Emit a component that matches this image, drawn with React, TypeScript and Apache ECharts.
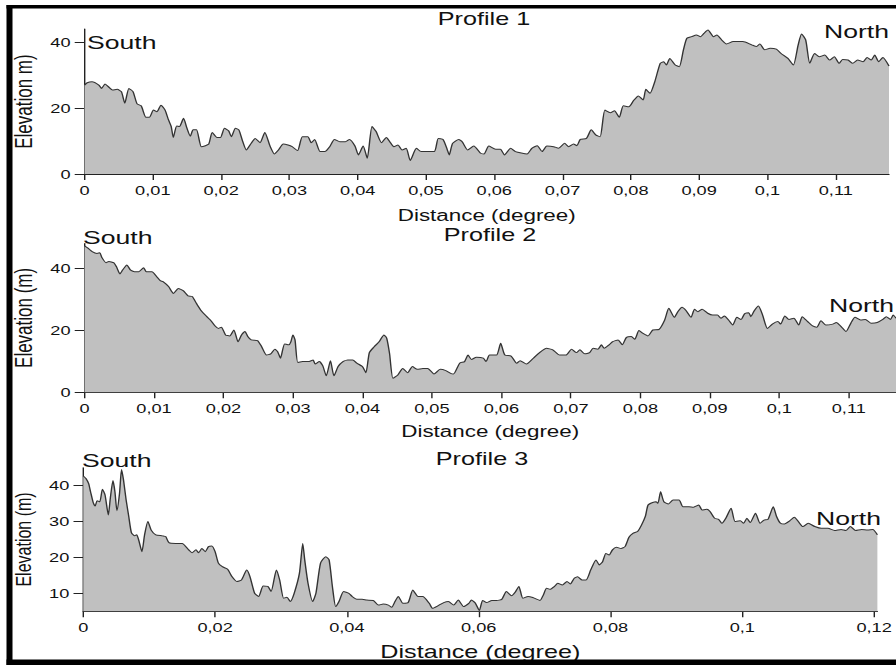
import React, { useEffect, useRef } from "react";
import * as echarts from "echarts";

// ---------- data (distance in degrees, elevation in m) ----------
const profile1: [number, number][] = [
  [0.0, 27.0], [0.0004, 27.7], [0.0011, 28.0], [0.0021, 27.0], [0.0025, 26.0], [0.003, 27.3], [0.0036, 26.3],
  [0.0041, 25.5], [0.0048, 25.7], [0.0054, 25.0], [0.0059, 21.5], [0.0065, 26.0], [0.0071, 25.0], [0.0077, 21.3],
  [0.0083, 20.7], [0.009, 17.2], [0.0095, 17.2], [0.0101, 19.4], [0.0106, 18.9], [0.0112, 20.9], [0.0118, 19.4],
  [0.0123, 16.4], [0.0127, 14.4], [0.013, 11.1], [0.0135, 14.6], [0.0139, 14.4], [0.0145, 16.9], [0.015, 13.9],
  [0.0155, 11.5], [0.0159, 13.4], [0.0164, 13.4], [0.0171, 8.3], [0.0177, 8.6], [0.0182, 9.1], [0.0187, 12.6],
  [0.0194, 11.1], [0.0199, 11.1], [0.0205, 13.9], [0.0211, 13.1], [0.0215, 11.3], [0.0221, 13.9], [0.0226, 13.4],
  [0.0231, 10.3], [0.0237, 7.3], [0.0244, 9.3], [0.025, 10.8], [0.0257, 9.5], [0.0264, 12.6], [0.0272, 8.3],
  [0.0278, 6.1], [0.0284, 7.3], [0.0291, 9.1], [0.0298, 8.8], [0.0304, 8.3], [0.0312, 7.1], [0.0319, 11.3],
  [0.0327, 11.3], [0.0332, 9.5], [0.0337, 10.5], [0.0345, 6.8], [0.0352, 6.8], [0.0359, 8.3], [0.0366, 10.5],
  [0.0374, 9.8], [0.0382, 9.8], [0.0388, 10.5], [0.0396, 8.5], [0.0401, 5.8], [0.0408, 8.5], [0.0414, 4.8],
  [0.0421, 14.4], [0.0427, 12.9], [0.0435, 9.5], [0.0442, 11.1], [0.0447, 9.8], [0.0453, 8.3], [0.0459, 8.8],
  [0.0465, 7.3], [0.0471, 7.8], [0.0477, 4.1], [0.0486, 7.8], [0.0493, 6.8], [0.0512, 6.8], [0.0518, 10.8],
  [0.0525, 10.5], [0.0531, 7.5], [0.0534, 5.8], [0.0539, 9.3], [0.0548, 10.5], [0.0553, 9.8], [0.0561, 7.3],
  [0.057, 8.5], [0.058, 6.3], [0.0585, 6.1], [0.0592, 8.5], [0.0602, 7.5], [0.0609, 7.5], [0.0615, 5.8],
  [0.0624, 7.8], [0.0631, 6.8], [0.0648, 6.1], [0.0655, 7.8], [0.0663, 8.6], [0.067, 6.8], [0.0677, 8.5],
  [0.0687, 8.3], [0.0694, 7.8], [0.0703, 9.3], [0.0709, 8.3], [0.0716, 9.1], [0.0721, 8.6], [0.0726, 10.5],
  [0.0735, 10.8], [0.0742, 13.4], [0.0749, 11.8], [0.0755, 11.3], [0.0762, 19.4], [0.077, 18.6], [0.0776, 19.2],
  [0.0783, 17.2], [0.0789, 20.7], [0.0797, 20.4], [0.0804, 22.3], [0.0811, 23.7], [0.0818, 22.5], [0.0822, 25.7],
  [0.0828, 24.5], [0.0835, 28.0], [0.0843, 33.6], [0.0848, 34.1], [0.0852, 33.1], [0.0857, 35.1], [0.0865, 33.1],
  [0.0871, 32.6], [0.0877, 37.7], [0.0882, 41.2], [0.0889, 41.7], [0.0896, 42.2], [0.0902, 41.7], [0.0907, 42.7],
  [0.0913, 43.7], [0.0921, 41.7], [0.0926, 42.2], [0.0933, 40.7], [0.094, 39.5], [0.095, 40.2], [0.0964, 40.2],
  [0.0977, 39.2], [0.0984, 38.7], [0.0989, 39.5], [0.0996, 37.7], [0.1004, 38.2], [0.1013, 37.9], [0.102, 36.6],
  [0.103, 35.1], [0.1038, 33.1], [0.1045, 39.2], [0.105, 42.5], [0.1056, 40.7], [0.1062, 33.6], [0.1069, 36.6],
  [0.1076, 35.6], [0.1084, 36.1], [0.1091, 34.6], [0.1098, 35.6], [0.1105, 33.6], [0.111, 34.8], [0.1118, 34.6],
  [0.1125, 33.6], [0.1132, 34.6], [0.114, 34.1], [0.1146, 35.4], [0.1152, 34.6], [0.1157, 36.1], [0.1163, 34.1],
  [0.1169, 35.4], [0.1178, 32.8],
];

const profile2: [number, number][] = [
  [0.0, 47.2], [0.0005, 46.5], [0.0011, 45.4], [0.0018, 44.8], [0.0022, 45.0], [0.0025, 43.5], [0.0031, 41.8],
  [0.0035, 42.2], [0.0042, 41.8], [0.0046, 40.5], [0.0051, 38.2], [0.0055, 39.5], [0.0061, 41.1], [0.0066, 39.5],
  [0.0072, 38.9], [0.0078, 38.9], [0.0085, 40.2], [0.0089, 38.9], [0.0097, 38.9], [0.0104, 37.3], [0.0109, 36.0],
  [0.0113, 35.7], [0.0121, 34.1], [0.0128, 31.9], [0.0135, 33.5], [0.0142, 32.8], [0.0149, 31.1], [0.0155, 30.9],
  [0.0161, 28.7], [0.0168, 26.3], [0.0176, 24.4], [0.0182, 23.1], [0.0188, 21.4], [0.0193, 20.6], [0.0197, 21.0],
  [0.0203, 18.5], [0.0209, 18.2], [0.0215, 20.1], [0.0221, 16.3], [0.0226, 18.5], [0.0231, 19.6], [0.0235, 18.0],
  [0.024, 16.9], [0.0249, 16.7], [0.0255, 14.7], [0.0262, 12.0], [0.0268, 12.4], [0.0274, 13.9], [0.0278, 13.1],
  [0.0282, 11.0], [0.0288, 15.6], [0.0294, 15.3], [0.0297, 16.3], [0.03, 18.5], [0.0303, 16.9], [0.0307, 9.6],
  [0.0314, 9.9], [0.0322, 9.9], [0.0329, 10.4], [0.0332, 9.1], [0.0338, 9.9], [0.0343, 8.5], [0.0348, 5.3],
  [0.0354, 10.2], [0.0359, 5.3], [0.0365, 8.3], [0.0372, 9.9], [0.0379, 10.4], [0.0386, 10.4], [0.0392, 9.4],
  [0.04, 8.3], [0.0405, 6.3], [0.041, 12.8], [0.0417, 14.7], [0.0424, 16.3], [0.0431, 18.5], [0.0435, 17.4],
  [0.0439, 12.6], [0.0444, 4.5], [0.0451, 5.6], [0.0458, 7.7], [0.0465, 6.3], [0.0472, 8.3], [0.0479, 7.4],
  [0.0487, 7.7], [0.0494, 7.7], [0.0503, 5.9], [0.0512, 7.4], [0.052, 7.0], [0.0527, 6.1], [0.0531, 5.9],
  [0.054, 9.4], [0.0547, 9.9], [0.0552, 12.0], [0.0557, 10.6], [0.0564, 11.3], [0.0574, 11.0], [0.0578, 9.9],
  [0.0583, 12.0], [0.0593, 12.0], [0.0599, 15.8], [0.0605, 12.0], [0.0614, 11.7], [0.0622, 9.4], [0.0627, 10.2],
  [0.0636, 9.1], [0.0646, 11.0], [0.0655, 12.8], [0.0665, 14.2], [0.0674, 13.7], [0.0684, 12.0], [0.0693, 12.0],
  [0.0701, 13.9], [0.0708, 12.8], [0.0713, 13.7], [0.072, 12.4], [0.0727, 12.8], [0.0732, 14.2], [0.0739, 13.9],
  [0.0744, 15.3], [0.0748, 14.2], [0.0755, 15.3], [0.076, 16.3], [0.0768, 16.9], [0.0774, 15.3], [0.078, 17.7],
  [0.0787, 18.0], [0.0792, 17.1], [0.0798, 19.9], [0.0804, 19.0], [0.0811, 18.2], [0.0818, 20.1], [0.0827, 20.3],
  [0.0835, 23.3], [0.0841, 27.1], [0.0849, 24.2], [0.0854, 26.0], [0.086, 27.4], [0.0866, 26.3], [0.0873, 24.2],
  [0.0878, 26.8], [0.0883, 26.0], [0.0889, 26.8], [0.0897, 25.5], [0.0904, 24.9], [0.0911, 24.9], [0.0916, 23.9],
  [0.0921, 24.6], [0.0927, 23.3], [0.0933, 21.7], [0.0939, 24.2], [0.0945, 23.5], [0.095, 25.3], [0.0956, 25.7],
  [0.0959, 24.4], [0.0964, 26.3], [0.097, 27.8], [0.0976, 24.9], [0.0983, 20.6], [0.099, 22.0], [0.0998, 22.8],
  [0.1002, 22.0], [0.1008, 24.6], [0.1014, 23.5], [0.1021, 23.9], [0.1028, 21.7], [0.1033, 24.4], [0.1041, 22.8],
  [0.1048, 21.4], [0.1054, 21.0], [0.106, 23.1], [0.1067, 21.7], [0.1077, 22.0], [0.1082, 22.5], [0.1089, 21.2],
  [0.1096, 19.6], [0.1103, 22.3], [0.1109, 24.2], [0.1117, 23.3], [0.1124, 23.5], [0.1132, 22.3], [0.1141, 22.5],
  [0.1149, 23.5], [0.1154, 24.4], [0.116, 23.5], [0.1164, 24.9], [0.1168, 23.9],
];

const profile3: [number, number][] = [
  [0.0, 42.7], [0.0004, 42.0], [0.0008, 40.6], [0.0011, 38.3], [0.0015, 35.3], [0.0018, 34.3], [0.0021, 35.8],
  [0.0025, 35.5], [0.0029, 39.0], [0.0033, 37.4], [0.0038, 31.8], [0.0041, 36.5], [0.0045, 41.4], [0.0048, 38.3],
  [0.0051, 33.0], [0.0055, 37.9], [0.0058, 44.5], [0.0061, 41.6], [0.0065, 36.0], [0.0069, 31.4], [0.0073, 26.9],
  [0.0078, 26.0], [0.0081, 26.3], [0.0084, 24.9], [0.0089, 21.6], [0.0093, 26.3], [0.0098, 30.0], [0.0103, 27.6],
  [0.011, 26.3], [0.012, 26.0], [0.0125, 25.8], [0.013, 24.1], [0.014, 23.9], [0.015, 23.9], [0.016, 22.1],
  [0.0165, 21.3], [0.0171, 22.1], [0.0175, 21.3], [0.018, 22.5], [0.0185, 21.6], [0.019, 23.0], [0.0195, 23.2],
  [0.02, 21.6], [0.0205, 18.4], [0.0211, 17.4], [0.0219, 16.7], [0.0225, 14.8], [0.0233, 13.3], [0.024, 13.7],
  [0.0248, 16.5], [0.0253, 14.6], [0.026, 10.0], [0.0266, 9.1], [0.0273, 12.0], [0.028, 11.9], [0.0285, 10.5],
  [0.0293, 16.5], [0.0298, 13.7], [0.0304, 8.6], [0.0309, 8.9], [0.0314, 7.7], [0.032, 10.0], [0.0328, 15.6],
  [0.0333, 23.9], [0.0336, 19.3], [0.0341, 12.8], [0.0348, 7.7], [0.0353, 10.0], [0.036, 18.4], [0.0368, 20.2],
  [0.0373, 19.3], [0.0378, 11.9], [0.0383, 6.3], [0.0388, 7.7], [0.0395, 10.5], [0.0403, 10.0], [0.0408, 9.1],
  [0.0415, 8.3], [0.0423, 8.3], [0.043, 8.1], [0.044, 8.0], [0.0448, 6.7], [0.0455, 7.0], [0.0463, 6.7],
  [0.0468, 6.1], [0.0473, 7.7], [0.0478, 9.1], [0.0485, 7.2], [0.0493, 7.4], [0.05, 10.9], [0.0508, 9.1],
  [0.0515, 9.1], [0.0525, 7.2], [0.053, 5.8], [0.0538, 6.5], [0.0547, 7.4], [0.0554, 7.7], [0.0562, 6.7],
  [0.0569, 8.1], [0.0577, 6.3], [0.0585, 7.2], [0.0589, 8.1], [0.0595, 7.2], [0.0601, 5.2], [0.0606, 8.0],
  [0.0612, 7.4], [0.062, 8.0], [0.0627, 8.0], [0.0635, 8.3], [0.0642, 10.5], [0.065, 9.3], [0.0655, 10.2],
  [0.0661, 11.9], [0.0667, 8.6], [0.0675, 9.1], [0.0682, 8.8], [0.0693, 8.0], [0.0698, 9.5], [0.0703, 11.4],
  [0.0708, 11.1], [0.0715, 11.9], [0.072, 12.8], [0.0727, 12.3], [0.0734, 13.3], [0.0739, 12.6], [0.0745, 14.2],
  [0.075, 14.6], [0.0757, 13.7], [0.0763, 13.7], [0.077, 16.5], [0.0778, 19.3], [0.0783, 17.9], [0.0788, 18.8],
  [0.0793, 21.1], [0.0798, 20.7], [0.0803, 22.1], [0.0809, 22.8], [0.0816, 22.5], [0.0822, 23.0], [0.0828, 25.6],
  [0.0834, 26.7], [0.0841, 27.2], [0.0847, 29.0], [0.0853, 31.5], [0.0857, 34.6], [0.0864, 35.3], [0.0869, 35.5],
  [0.0872, 35.1], [0.0876, 38.3], [0.0881, 35.5], [0.0888, 34.9], [0.0895, 36.0], [0.0904, 36.0], [0.091, 34.1],
  [0.0919, 34.1], [0.0926, 34.0], [0.0934, 34.6], [0.0939, 33.2], [0.0946, 33.4], [0.0951, 32.8], [0.0958, 30.9],
  [0.0964, 30.6], [0.0969, 29.5], [0.0975, 30.9], [0.0983, 33.7], [0.0989, 30.0], [0.0997, 30.2], [0.1002, 29.5],
  [0.1007, 30.9], [0.1012, 29.7], [0.102, 32.3], [0.1027, 29.5], [0.1033, 30.4], [0.1039, 30.6], [0.1047, 34.1],
  [0.1052, 31.4], [0.1058, 29.5], [0.1064, 29.3], [0.1072, 30.2], [0.1079, 31.2], [0.1085, 30.0], [0.1092, 28.6],
  [0.11, 29.5], [0.111, 28.6], [0.112, 28.1], [0.113, 28.1], [0.114, 27.5], [0.115, 27.8], [0.1157, 27.5],
  [0.1164, 28.6], [0.1172, 27.5], [0.1181, 27.8], [0.119, 27.6], [0.1198, 27.8], [0.1205, 26.3],
];

// ---------- tick values ----------
const xTicks1 = [0, 0.01, 0.02, 0.03, 0.04, 0.05, 0.06, 0.07, 0.08, 0.09, 0.1, 0.11];
const xTicks2 = [0, 0.01, 0.02, 0.03, 0.04, 0.05, 0.06, 0.07, 0.08, 0.09, 0.1, 0.11];
const xTicks3 = [0, 0.02, 0.04, 0.06, 0.08, 0.1, 0.12];
const yTicks1 = [0, 20, 40];
const yTicks2 = [0, 20, 40];
const yTicks3 = [10, 20, 30, 40];

const titles = ["Profile 1", "Profile 2", "Profile 3"];
const yNames = ["Elevation m)", "Elevation (m)", "Elevation (m)"];
const xName = "Distance (degree)";

// ---------- layout (reference px; x divided by the horizontal stretch) ----------
const S = 1.4;
const FONT = "'Liberation Sans', Arial, Helvetica, sans-serif";

const panels = [
  { data: profile1, xTicks: xTicks1, yTicks: yTicks1, xMax: 0.1178, yMin: 0, yMax: 44,
    left: 82, right: 889, top: 29.1, bottom: 174, xNameGap: 33, xNameSize: 16, yNameSize: 17 },
  { data: profile2, xTicks: xTicks2, yTicks: yTicks2, xMax: 0.1168, yMin: 0, yMax: 48,
    left: 83.4, right: 896, top: 243.5, bottom: 392.3, xNameGap: 31, xNameSize: 16, yNameSize: 17 },
  { data: profile3, xTicks: xTicks3, yTicks: yTicks3, xMax: 0.1205, yMin: 5, yMax: 45,
    left: 83.3, right: 882.6, top: 467.7, bottom: 611.2, xNameGap: 32, xNameSize: 18, yNameSize: 16 },
];

const fmt = (v: number) => String(v).replace(".", ",");

function buildOption() {
  const grid = panels.map((p) => ({
    left: p.left / S,
    top: p.top,
    width: (p.right - p.left) / S,
    height: p.bottom - p.top,
  }));
  const xAxis = panels.map((p, i) => ({
    type: "value",
    gridIndex: i,
    min: 0,
    max: p.xMax,
    name: xName,
    nameLocation: "middle",
    nameGap: p.xNameGap,
    nameTextStyle: { fontFamily: FONT, fontSize: p.xNameSize, color: "#111" },
    axisLine: { show: true, onZero: false, lineStyle: { color: "#222", width: 1 } },
    axisTick: { show: true, length: 6, customValues: p.xTicks, lineStyle: { color: "#222" } },
    axisLabel: { customValues: p.xTicks, formatter: fmt, margin: 10, fontFamily: FONT, fontSize: 13, color: "#111" },
    splitLine: { show: false },
  }));
  const yAxis = panels.map((p, i) => ({
    type: "value",
    gridIndex: i,
    min: p.yMin,
    max: p.yMax,
    name: yNames[i],
    nameLocation: "middle",
    nameGap: 29,
    nameTextStyle: { fontFamily: FONT, fontSize: p.yNameSize, color: "#111" },
    axisLine: { show: true, onZero: false, lineStyle: { color: "#222", width: 1 } },
    axisTick: { show: true, length: 7, customValues: p.yTicks, lineStyle: { color: "#222" } },
    axisLabel: { customValues: p.yTicks, margin: 10, fontFamily: FONT, fontSize: 13, color: "#111" },
    splitLine: { show: false },
  }));
  const series = panels.map((p, i) => ({
    type: "line",
    xAxisIndex: i,
    yAxisIndex: i,
    data: p.data,
    showSymbol: false,
    smooth: 0.2,
    lineStyle: { color: "#333", width: 1 },
    areaStyle: { color: "#c0c0c0", opacity: 1 },
    silent: true,
  }));

  const label = (text: string, x: number, y: number, size: number, align: string) => ({
    type: "text",
    z: 100,
    x: x / S,
    y,
    style: { text, fontFamily: FONT, fontSize: size, fill: "#111", align, verticalAlign: "middle" },
  });

  const graphic = [
    // frame
    { type: "rect", z: 90, shape: { x: 6.5 / S, y: 5, width: 900 / S, height: 3.5 }, style: { fill: "#000" } },
    { type: "rect", z: 90, shape: { x: 6.5 / S, y: 5, width: 6 / S, height: 660 }, style: { fill: "#000" } },
    { type: "rect", z: 90, shape: { x: 6.5 / S, y: 659.5, width: 900 / S, height: 5.5 }, style: { fill: "#000" } },
    label(titles[0], 484, 19, 18, "center"),
    label(titles[1], 490, 235, 18, "center"),
    label(titles[2], 482, 458.5, 18, "center"),
    label("South", 87, 42, 19, "left"),
    label("North", 824, 31, 19, "left"),
    label("South", 83, 237, 19, "left"),
    label("North", 829, 305.5, 19, "left"),
    label("South", 82, 460.5, 19, "left"),
    label("North", 816, 518.5, 19, "left"),
  ];

  return { animation: false, backgroundColor: "#fff", grid, xAxis, yAxis, series, graphic };
}

export default function App() {
  const ref = useRef<HTMLDivElement>(null);
  useEffect(() => {
    if (!ref.current) return;
    const chart = echarts.init(ref.current, null, { renderer: "svg" });
    chart.setOption(buildOption() as any);
    return () => chart.dispose();
  }, []);
  return (
    <div
      ref={ref}
      style={{
        position: "fixed",
        left: 0,
        top: 0,
        width: 896 / S,
        height: 667,
        transform: `scaleX(${S})`,
        transformOrigin: "0 0",
        background: "#fff",
      }}
    />
  );
}
